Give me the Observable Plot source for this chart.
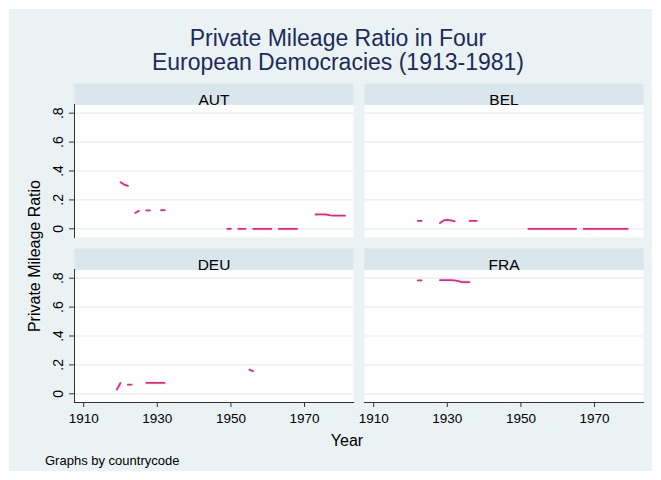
<!DOCTYPE html>
<html>
<head>
<meta charset="utf-8">
<script src="https://cdn.jsdelivr.net/npm/d3@7"></script>
<script src="https://cdn.jsdelivr.net/npm/@observablehq/plot@0.6"></script>
<style>
html, body { margin: 0; padding: 0; background: #ffffff; }
#page { position: relative; width: 661px; height: 480px; overflow: hidden; font-family: "Liberation Sans", Arial, Helvetica, sans-serif; }
#bg { position: absolute; left: 9px; top: 9px; width: 643px; height: 462px; background: #eaf2f3; }
#title { position: absolute; left: 0; top: 26px; width: 676px; text-align: center; font-size: 23px; line-height: 24px; color: #1c2c5c; }
#chart { position: absolute; left: 0; top: 80px; }
#ytitle { position: absolute; left: -65px; top: 248px; width: 200px; text-align: center; font-size: 16px; line-height: 16px; color: #000; transform: rotate(-90deg); transform-origin: 100px 8px; }
#xtitle { position: absolute; left: 247px; top: 433px; width: 200px; text-align: center; font-size: 16px; line-height: 16px; color: #000; }
#caption { position: absolute; left: 45px; top: 453.5px; font-size: 13px; line-height: 13px; color: #000; white-space: nowrap; }
</style>
</head>
<body>
<div id="page">
  <div id="bg"></div>
  <div id="title">Private Mileage Ratio in Four<br>European Democracies (1913-1981)</div>
  <div id="chart"></div>
  <div id="ytitle">Private Mileage Ratio</div>
  <div id="xtitle">Year</div>
  <div id="caption">Graphs by countrycode</div>
</div>
<script>
// ---- data (null = missing year, breaks the line) ----
const countries = ["AUT", "BEL", "DEU", "FRA"];
const panelCol = ["left", "right", "left", "right"];
const panelRow = ["top", "top", "bottom", "bottom"];

const autYears  = [1920, 1921, 1922, 1923, 1924, 1925, 1926, 1927, 1928, 1929, 1931, 1932, 1933,
                   1949, 1950, 1951, 1952, 1953, 1954, 1955, 1956, 1957, 1958, 1959, 1960, 1961, 1962,
                   1963, 1964, 1965, 1966, 1967, 1968, 1969, 1973, 1974, 1975, 1976, 1977, 1978, 1979, 1980, 1981];
const autValues = [0.322, 0.306, 0.297, null, 0.110, 0.124, null, 0.128, 0.128, null, 0.130, 0.129, null,
                   0, 0, null, 0, 0, 0, null, 0, 0, 0, 0, 0, 0, null,
                   0, 0, 0, 0, 0, 0, null, 0.099, 0.100, 0.100, 0.099, 0.093, 0.092, 0.092, 0.091, 0.091];

const belYears  = [1922, 1923, 1924, 1928, 1929, 1930, 1931, 1932, 1933, 1936, 1937, 1938, 1939,
                   1952, 1953, 1954, 1955, 1956, 1957, 1958, 1959, 1960, 1961, 1962, 1963, 1964, 1965, 1966,
                   1967, 1968, 1969, 1970, 1971, 1972, 1973, 1974, 1975, 1976, 1977, 1978, 1979];
const belValues = [0.055, 0.055, null, 0.040, 0.058, 0.062, 0.058, 0.052, null, 0.055, 0.055, 0.055, null,
                   0, 0, 0, 0, 0, 0, 0, 0, 0, 0, 0, 0, 0, 0, null,
                   0, 0, 0, 0, 0, 0, 0, 0, 0, 0, 0, 0, 0];

const deuYears  = [1919, 1920, 1921, 1922, 1923, 1924, 1927, 1928, 1929, 1930, 1931, 1932, 1933, 1955, 1956];
const deuValues = [0.030, 0.075, null, 0.063, 0.063, null, 0.076, 0.076, 0.076, 0.076, 0.076, 0.076, null, 0.167, 0.157];

const fraYears  = [1922, 1923, 1924, 1928, 1929, 1930, 1931, 1932, 1933, 1934, 1935, 1936];
const fraValues = [0.785, 0.785, null, 0.787, 0.787, 0.787, 0.786, 0.785, 0.780, 0.773, 0.772, 0.773];

const xTicks = [1910, 1930, 1950, 1970];
const yTicks = [0, 0.2, 0.4, 0.6, 0.8];

// ---- build tidy table ----
const seriesYears = [autYears, belYears, deuYears, fraYears];
const seriesValues = [autValues, belValues, deuValues, fraValues];
const rows = [];
countries.forEach((code, k) => {
  seriesYears[k].forEach((yr, i) => {
    rows.push({code, col: panelCol[k], row: panelRow[k], year: yr, value: seriesValues[k][i]});
  });
});
const panels = countries.map((code, k) => ({code, col: panelCol[k], row: panelRow[k]}));

// ---- layout ----
const W = 661, H = 375;
const mTop = 24, mBottom = 53.3, mLeft = 73, mRight = 17;
const fyPad = 0.196;
const bandH = (H - mTop - mBottom) / (2 - fyPad) * (1 - fyPad);
const stripH = 21;
const lineColor = "#fb1a7e";
const axisColor = "#333333";

const chart = Plot.plot({
  width: W,
  height: H,
  marginTop: mTop,
  marginBottom: mBottom,
  marginLeft: mLeft,
  marginRight: mRight,
  style: {background: "transparent", fontFamily: "'Liberation Sans', Arial, Helvetica, sans-serif", fontSize: "13px", color: "#000"},
  x: {domain: [1907.5, 1983.3], label: null},
  y: {domain: [-0.06, 0.86], label: null},
  fx: {domain: ["left", "right"], paddingInner: 0.0378, paddingOuter: 0, axis: null, label: null},
  fy: {domain: ["top", "bottom"], paddingInner: fyPad, paddingOuter: 0, axis: null, label: null},
  marks: [
    Plot.frame({fill: "#ffffff", stroke: "none"}),
    Plot.frame({fill: "#d9e6eb", stroke: "none", insetTop: -stripH, insetBottom: bandH}),
    Plot.gridY(yTicks, {stroke: "#e6eef0", strokeOpacity: 1, strokeWidth: 1.2}),
    Plot.frame({anchor: "left", facetAnchor: "left", stroke: axisColor, strokeWidth: 1}),
    Plot.frame({anchor: "bottom", facetAnchor: "bottom", stroke: axisColor, strokeWidth: 1.2}),
    Plot.axisY(yTicks, {
      anchor: "left",
      tickSize: 5,
      tickPadding: 7,
      tickRotate: -90,
      stroke: axisColor,
      fontSize: 14,
      tickFormat: d => d === 0 ? "0" : d3.format(".1f")(d).replace(/^0\./, "."),
      label: null
    }),
    Plot.axisX(xTicks, {
      anchor: "bottom",
      tickSize: 5,
      tickPadding: 6,
      stroke: axisColor,
      fontSize: 13.5,
      tickFormat: d => String(d),
      label: null
    }),
    Plot.lineY(rows, {fx: "col", fy: "row", x: "year", y: "value", z: "code", stroke: lineColor, strokeWidth: 1.8}),
    Plot.text(panels, {fx: "col", fy: "row", text: "code", frameAnchor: "top", dy: -stripH / 2, fontSize: 15.5, fill: "#000"})
  ]
});
document.getElementById("chart").appendChild(chart);
</script>
</body>
</html>
